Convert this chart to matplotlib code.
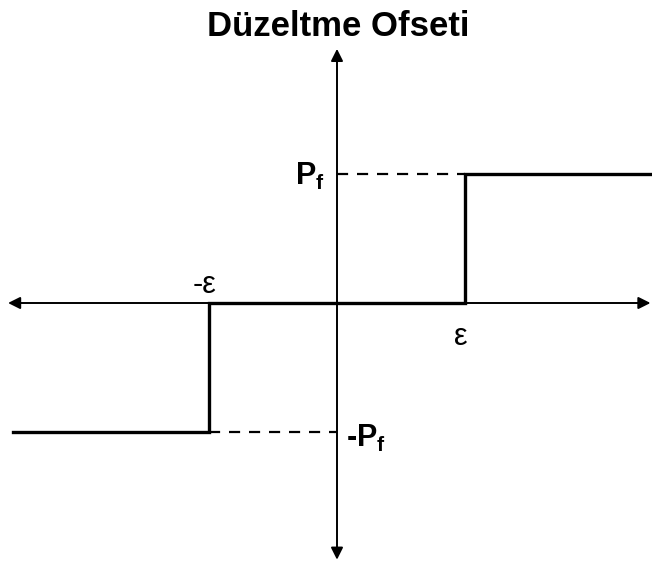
import numpy as np
import matplotlib
matplotlib.use("Agg")
import matplotlib.pyplot as plt

plt.rcParams['font.family'] = ['Liberation Sans', 'DejaVu Sans']
plt.rcParams['mathtext.fontset'] = 'custom'
plt.rcParams['mathtext.rm'] = 'Liberation Sans:bold'
plt.rcParams['mathtext.bf'] = 'Liberation Sans:bold'
plt.rcParams['mathtext.it'] = 'Liberation Sans:bold'

# step (dead-band) function: threshold eps, offset Pf
eps = 0.99
pf = 1.0
step_x = [-2.51, -eps, -eps, eps, eps, 2.45]
step_y = [-pf, -pf, 0.0, 0.0, pf, pf]

title = "Düzeltme Ofseti"

sc = 129.0  # px per unit
fig = plt.figure(figsize=(6.52, 5.68), dpi=100)
ax = fig.add_axes([0, 0, 1, 1])
ax.set_xlim(-337 / sc, (652 - 337) / sc)
ax.set_ylim(-(568 - 303) / sc, 303 / sc)
ax.axis("off")

# axes with arrows on both ends
arr = dict(arrowstyle="<|-|>", color="black", lw=1.4, mutation_scale=18, shrinkA=0, shrinkB=0)
ax.annotate("", xy=(-2.55, 0), xytext=(2.43, 0), arrowprops=arr)
ax.annotate("", xy=(0, 1.97), xytext=(0, -1.99), arrowprops=arr)

# dashed guides
ax.plot([0, eps], [pf, pf], color="black", lw=1.6, ls=(0, (5, 4)))
ax.plot([-eps, 0], [-pf, -pf], color="black", lw=1.6, ls=(0, (5, 4)))

# the step itself
ax.plot(step_x, step_y, color="black", lw=2.4, solid_joinstyle="miter")

ax.text(0.01, 2.14, title, ha="center", va="center", fontsize=25, fontweight="bold")
ax.text(-0.1, pf - 0.02, r"$P_f$", ha="right", va="center", fontsize=22)
ax.text(0.07, -pf - 0.05, r"-$P_f$", ha="left", va="center", fontsize=22, fontweight="bold")
ax.text(-eps - 0.04, 0.14, "-ε", ha="center", va="center", fontsize=22)
ax.text(eps - 0.03, -0.26, "ε", ha="center", va="center", fontsize=22)

fig.savefig("out.png", dpi=100)
